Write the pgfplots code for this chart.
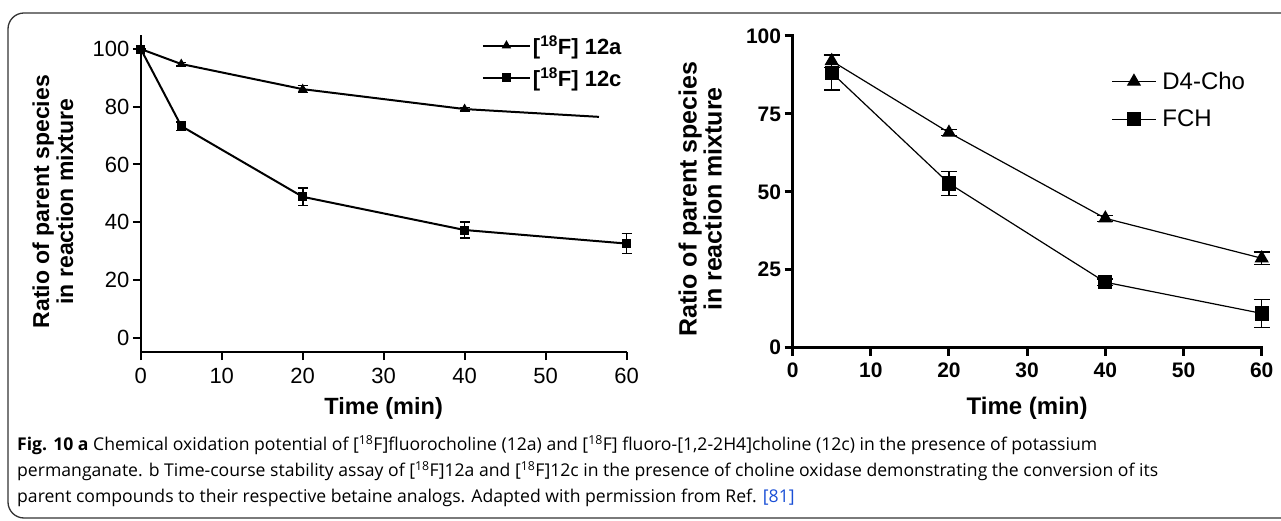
\documentclass[border=0pt]{standalone}
\usepackage{pgfplots}
\pgfplotsset{compat=1.18}
\usepackage{fontspec}
\setmainfont{Liberation Sans}
\newfontfamily\capfont{Open Sans}
\definecolor{framegray}{HTML}{333333}
\definecolor{reflink}{HTML}{1A4FD6}

\begin{document}
\begin{tikzpicture}[x=1pt,y=1pt]
\useasboundingbox (0,0) rectangle (1281,521);
% rounded frame round figure and caption (right side runs off the page)
\draw[framegray, line width=1.3pt, rounded corners=16pt] (8,3) rectangle (1320,508);

% ---- panel a ----
\begin{axis}[
    at={(140.8pt,168.9pt)}, anchor=south west,
    scale only axis, width=485.7pt, height=317.5pt,
    xmin=0, xmax=60, ymin=-5, ymax=105,
    axis x line*=bottom, axis y line*=left,
    axis line style={line width=2pt},
    xtick={0,10,...,60}, ytick={0,20,...,100},
    tick align=outside, major tick length=8pt,
    tick style={line width=2pt, black},
    /pgf/number format/assume math mode=true,
    ticklabel style={font=\fontsize{22}{22}\selectfont},
    xticklabel style={yshift=-5pt},
    xlabel={Time (min)},
    xlabel style={font=\bfseries\fontsize{23.5}{24}\selectfont,
        at={(axis description cs:0.5,-0.177)}, anchor=center},
    ylabel={Ratio of parent species\\in reaction mixture},
    ylabel style={font=\bfseries\fontsize{23}{24}\selectfont, align=center,
        at={(axis description cs:-0.181,0.474)}, anchor=center},
    clip=false,
    legend style={draw=none, fill=none, inner sep=0pt,
        at={(axis description cs:0.702,1.0)}, anchor=north west,
        font=\bfseries\fontsize{22}{22}\selectfont,
        nodes={inner sep=1pt}, row sep=10.5pt, column sep=1pt},
    legend cell align=left,
    legend image code/.code={\draw[mark repeat=2,mark phase=2,#1]
        plot coordinates {(0pt,0pt) (23.5pt,0pt) (47pt,0pt)};},
]
    \addplot[black, line width=2pt, mark=triangle*, mark size=3.5pt,
        error bars/.cd, y dir=both, y explicit, error mark=-,
        error mark options={rotate=90, mark size=5pt, line width=1.6pt},
        error bar style={line width=1.6pt}]
        coordinates {
            (0,100) +- (0,0)
            (5,94.8) +- (0,0.6)
            (20,86.1) +- (0,1.2)
            (40,79.2) +- (0,0.6)
        };
    \addlegendentry{[\textsuperscript{18}F] 12a}
    \addplot[black, line width=2pt, forget plot]
        coordinates {(40,79.2) (56.6,76.5)};
    \addplot[black, line width=2pt, mark=square*, mark size=3.5pt,
        error bars/.cd, y dir=both, y explicit, error mark=-,
        error mark options={rotate=90, mark size=5pt, line width=1.6pt},
        error bar style={line width=1.6pt}]
        coordinates {
            (0,100) +- (0,0)
            (5,73.3) +- (0,1.5)
            (20,48.8) +- (0,3)
            (40,37.3) +- (0,2.7)
            (60,32.6) +- (0,3.5)
        };
    \addlegendentry{[\textsuperscript{18}F] 12c}
\end{axis}

% ---- panel b ----
\begin{axis}[
    at={(792.6pt,173.3pt)}, anchor=south west,
    scale only axis, width=469.1pt, height=311.7pt,
    xmin=0, xmax=60, ymin=0, ymax=100,
    axis x line*=bottom, axis y line*=left,
    axis line style={line width=3pt, line cap=rect},
    xtick={0,10,...,60}, ytick={0,25,...,100},
    tick align=outside, major tick length=8pt,
    tick style={line width=3pt, black},
    /pgf/number format/assume math mode=true,
    ticklabel style={font=\bfseries\fontsize{21}{21}\selectfont},
    xticklabel style={yshift=-4pt},
    xlabel={Time (min)},
    xlabel style={font=\bfseries\fontsize{24}{24}\selectfont,
        at={(axis description cs:0.5,-0.193)}, anchor=center},
    ylabel={Ratio of parent species\\in reaction mixture},
    ylabel style={font=\bfseries\fontsize{25}{25}\selectfont, align=center,
        at={(axis description cs:-0.197,0.477)}, anchor=center},
    clip=false,
    legend style={draw=none, fill=none, inner sep=0pt,
        at={(axis description cs:0.6795,0.888)}, anchor=north west,
        font=\fontsize{24}{24}\selectfont,
        nodes={inner sep=1pt}, row sep=17pt, column sep=5pt},
    legend cell align=left,
    legend image code/.code={\draw[mark repeat=2,mark phase=2,#1]
        plot coordinates {(0pt,0pt) (21.8pt,0pt) (43.6pt,0pt)};},
]
    \addplot[black, line width=1.2pt, mark=triangle*, mark size=7pt,
        error bars/.cd, y dir=both, y explicit, error mark=-,
        error mark options={rotate=90, mark size=8pt, line width=1.3pt},
        error bar style={line width=1.3pt}]
        coordinates {
            (5,92) +- (0,2)
            (20,69) +- (0,1)
            (40,41.5) +- (0,1)
            (60,28.7) +- (0,2)
        };
    \addlegendentry{D4-Cho}
    \addplot[black, line width=1.2pt, mark=square*, mark size=6.5pt,
        error bars/.cd, y dir=both, y explicit, error mark=-,
        error mark options={rotate=90, mark size=8pt, line width=1.3pt},
        error bar style={line width=1.3pt}]
        coordinates {
            (5,88.2) +- (0,5.5)
            (20,52.7) +- (0,3.9)
            (40,21) +- (0,1)
            (60,11) +- (0,4.5)
        };
    \addlegendentry{FCH}
\end{axis}

% ---- caption ----
\node[anchor=north west, inner sep=0pt, align=left,
    font=\capfont\fontsize{17.6}{26}\selectfont] at (17,86)
{\textbf{Fig. 10 a} Chemical oxidation potential of [\textsuperscript{18}F]fluorocholine (12a) and [\textsuperscript{18}F] fluoro-[1,2-2H4]choline (12c) in the presence of potassium\\
permanganate. b Time-course stability assay of [\textsuperscript{18}F]12a and [\textsuperscript{18}F]12c in the presence of choline oxidase demonstrating the conversion of its\\
parent compounds to their respective betaine analogs. Adapted with permission from Ref. \textcolor{reflink}{[81]}};
\end{tikzpicture}
\end{document}
